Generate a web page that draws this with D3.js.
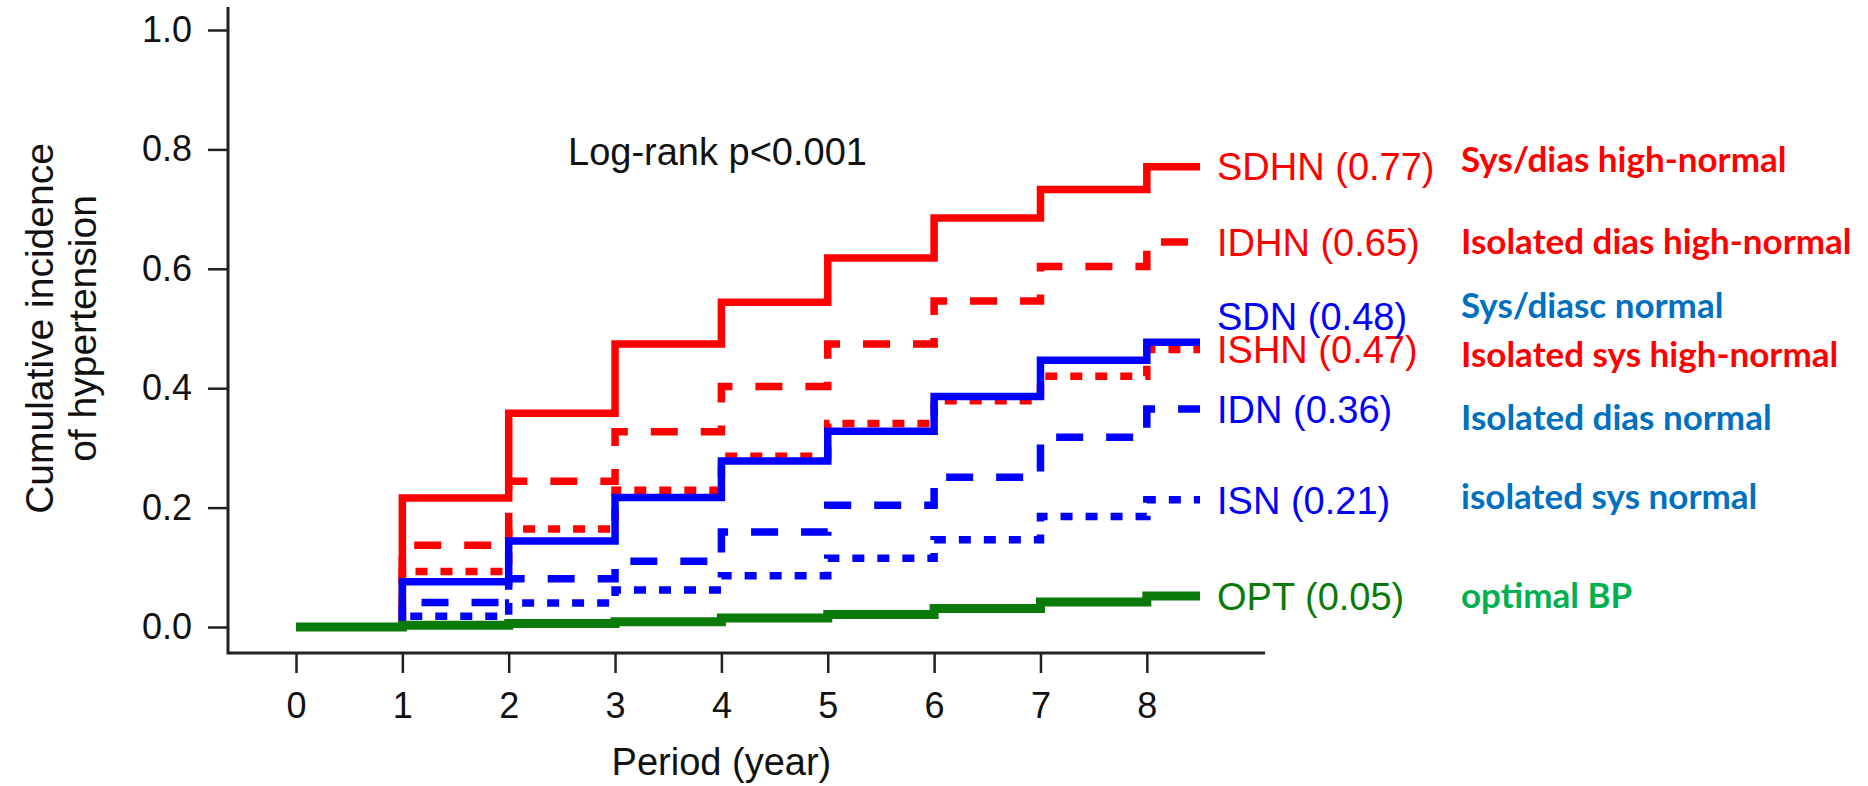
<!DOCTYPE html>
<html>
<head>
<meta charset="utf-8">
<script src="https://cdn.jsdelivr.net/npm/d3@7/dist/d3.min.js"></script>
<style>
  body { margin: 0; background: #fff; }
  svg { display: block; }
  .axis text { font-family: "Liberation Sans", Arial, sans-serif; font-size: 36px; fill: #111; }
  .axis line { stroke: #222; stroke-width: 2.5px; }
</style>
</head>
<body>
<svg id="chart" width="1868" height="786"></svg>
<script>
// step values for the intervals [0,1) [1,2) ... [7,8) [8,8.5]
var years = [0, 1, 2, 3, 4, 5, 6, 7, 8];
var yTicks = [0, 0.2, 0.4, 0.6, 0.8, 1.0];

var sdhn = [0, 0.216, 0.358, 0.474, 0.544, 0.618, 0.685, 0.733, 0.771];
var idhn = [0, 0.137, 0.244, 0.327, 0.403, 0.474, 0.546, 0.604, 0.645];
var ishn = [0, 0.093, 0.164, 0.229, 0.286, 0.341, 0.379, 0.420, 0.465];
var sdn  = [0, 0.076, 0.144, 0.217, 0.278, 0.328, 0.386, 0.447, 0.477];
var idn  = [0, 0.041, 0.081, 0.110, 0.159, 0.204, 0.251, 0.318, 0.365];
var isn  = [0, 0.018, 0.040, 0.062, 0.086, 0.115, 0.146, 0.185, 0.213];
var opt  = [0, 0.003, 0.006, 0.009, 0.015, 0.021, 0.031, 0.042, 0.052];

var groups = ["SDHN", "IDHN", "ISHN", "SDN", "IDN", "ISN", "OPT"];
var finals = ["0.77", "0.65", "0.47", "0.48", "0.36", "0.21", "0.05"];
var descriptions = ["Sys/dias high-normal", "Isolated dias high-normal", "Isolated sys high-normal",
    "Sys/diasc normal", "Isolated dias normal", "isolated sys normal", "optimal BP"];

var seriesValues = [sdhn, idhn, ishn, sdn, idn, isn, opt];

// styles, same order as groups
var lineColor = ["#ff0000", "#ff0000", "#ff0000", "#0000ff", "#0000ff", "#0000ff", "#0a7a0a"];
var descColor = ["#ff0000", "#ff0000", "#ff0000", "#0070c0", "#0070c0", "#0070c0", "#00b050"];
var dashes = [null, "27,23", "12,13", null, "27,23", "12,13", null];
var widths = [7.5, 7.5, 7.5, 7.5, 7.5, 7.5, 9];
var labelNudge = [0, 0, 0, -26, 0, 0, 0];
var descNudge = [-7, -1, 5, -37, 8, -3, -1];

var svg = d3.select("#chart");

var plotLeft = 228, plotRight = 1265, plotTop = 7, plotBottom = 653;
var x = d3.scaleLinear().domain([0, 8.5]).range([296, 1200]);
var y = d3.scaleLinear().domain([0, 1]).range([627, 30]);

// axes
var yAxis = svg.append("g")
    .attr("class", "axis")
    .attr("transform", "translate(" + plotLeft + ",0)")
    .call(d3.axisLeft(y).tickValues(yTicks).tickFormat(d3.format(".1f"))
        .tickSize(20).tickPadding(16).tickSizeOuter(0));
yAxis.select(".domain").remove();

var xAxis = svg.append("g")
    .attr("class", "axis")
    .attr("transform", "translate(0," + plotBottom + ")")
    .call(d3.axisBottom(x).tickValues(years).tickFormat(d3.format("d"))
        .tickSize(20).tickPadding(19).tickSizeOuter(0));
xAxis.select(".domain").remove();

svg.append("path")
    .attr("d", "M" + plotLeft + "," + plotTop + "V" + plotBottom + "H" + plotRight)
    .attr("fill", "none")
    .attr("stroke", "#222")
    .attr("stroke-width", 3);

// axis titles
var title = svg.append("g")
    .attr("font-family", "Liberation Sans, Arial, sans-serif")
    .attr("font-size", 39)
    .attr("fill", "#111");

title.append("text")
    .attr("x", (x(0) + x(8)) / 2)
    .attr("y", 775)
    .attr("text-anchor", "middle")
    .attr("font-size", 38)
    .text("Period (year)");

var ymid = (y(0) + y(1)) / 2;
title.append("text")
    .attr("transform", "translate(53," + ymid + ") rotate(-90)")
    .attr("text-anchor", "middle")
    .text("Cumulative incidence");
title.append("text")
    .attr("transform", "translate(96," + ymid + ") rotate(-90)")
    .attr("text-anchor", "middle")
    .text("of hypertension");

title.append("text")
    .attr("x", 568)
    .attr("y", 165)
    .attr("font-size", 38)
    .text("Log-rank p<0.001");

// step curves
var line = d3.line()
    .x(function (d) { return x(d[0]); })
    .y(function (d) { return y(d[1]); })
    .curve(d3.curveStepAfter);

var curves = svg.append("g").attr("class", "curves");

seriesValues.forEach(function (vals, i) {
    var pts = years.map(function (yr, k) { return [yr, vals[k]]; });
    pts.push([8.5, vals[vals.length - 1]]);
    curves.append("path")
        .datum(pts)
        .attr("d", line)
        .attr("fill", "none")
        .attr("stroke", lineColor[i])
        .attr("stroke-width", widths[i])
        .attr("stroke-dasharray", dashes[i])
        .attr("stroke-linejoin", "miter")
        .attr("stroke-linecap", "butt");
});

// end labels and descriptions
var labels = svg.append("g");

groups.forEach(function (g, i) {
    var vals = seriesValues[i];
    var yy = y(vals[vals.length - 1]);
    labels.append("text")
        .attr("x", x(8.5) + 17)
        .attr("y", yy + labelNudge[i])
        .attr("dy", "0.36em")
        .attr("font-family", "Liberation Sans, Arial, sans-serif")
        .attr("font-size", 38)
        .attr("fill", lineColor[i])
        .text(g + " (" + finals[i] + ")");
    labels.append("text")
        .attr("x", 1461)
        .attr("y", yy + descNudge[i])
        .attr("dy", "0.36em")
        .attr("font-family", "Lato, sans-serif")
        .attr("font-weight", 700)
        .attr("font-size", 35)
        .attr("fill", descColor[i])
        .text(descriptions[i]);
});
</script>
</body>
</html>
